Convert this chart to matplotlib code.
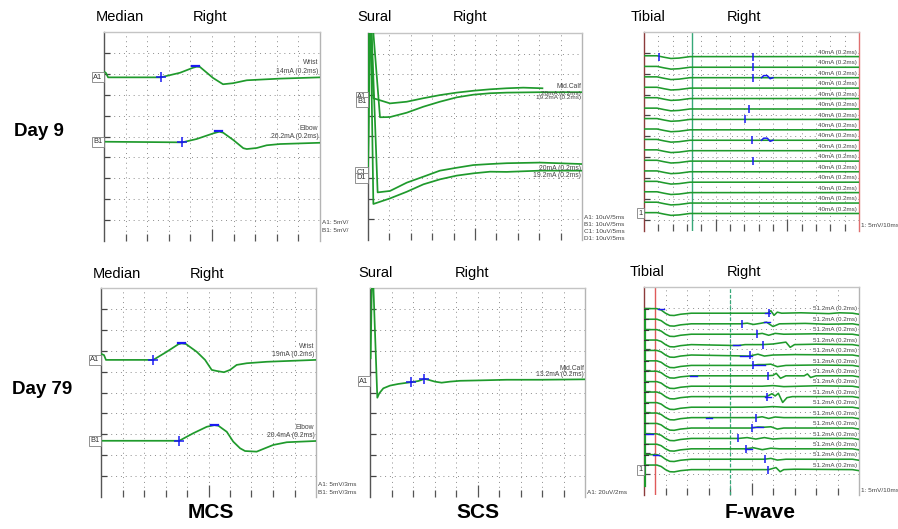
import matplotlib.pyplot as plt

plt.rcParams['font.family'] = ['Liberation Sans', 'DejaVu Sans']

W_PX, H_PX = 898, 529
GREEN = '#1f9a2c'
BLUE = '#1a1af2'
TEAL = '#35a878'

# all traces are in screen divisions (x: 0..10 or 0..15, y: 0..10 from bottom)

# ---- Day 9, median nerve MCS ----
mcs9_a1_x = [0.02, 0.09, 0.19, 2.62, 3.52, 4.12, 4.29, 4.44, 5.05, 5.51, 5.97, 6.61, 8.15, 10.0]
mcs9_a1_y = [8.09, 8.04, 7.83, 7.83, 8.05, 8.29, 8.34, 8.33, 7.80, 7.50, 7.55, 7.69, 7.77, 7.83]
mcs9_b1_x = [0.01, 3.62, 4.29, 5.06, 5.34, 5.52, 5.99, 6.45, 6.61, 7.07, 7.53, 8.15, 10.0]
mcs9_b1_y = [4.75, 4.72, 4.88, 5.15, 5.23, 5.18, 4.83, 4.44, 4.40, 4.45, 4.58, 4.64, 4.70]
mcs9_onset = [(2.62, 7.83), (3.62, 4.72)]
mcs9_peak = [(4.25, 8.36), (5.30, 5.25)]

# ---- Day 9, sural SCS (four sweeps) ----
scs9_a1_x = [0.0, 0.1, 0.25, 1.03, 1.81, 2.59, 3.36, 4.14, 4.92, 5.70, 6.48, 7.26, 8.15]
scs9_a1_y = [6.9, 12.0, 6.85, 6.60, 6.68, 6.85, 7.00, 7.12, 7.21, 7.28, 7.33, 7.36, 7.33]
scs9_b1_x = [0.0, 0.1, 0.56, 1.03, 1.81, 2.59, 3.36, 4.14, 4.92, 5.70, 6.48, 8.04, 10.0]
scs9_b1_y = [6.7, 12.0, 5.93, 5.94, 6.15, 6.44, 6.68, 6.89, 7.02, 7.09, 7.12, 7.14, 7.14]
scs9_c1_x = [0.0, 0.1, 0.45, 1.03, 1.81, 2.59, 3.36, 4.14, 4.92, 5.70, 6.48, 8.04, 10.0]
scs9_c1_y = [3.3, 12.0, 2.30, 2.37, 2.77, 3.06, 3.35, 3.49, 3.62, 3.67, 3.71, 3.74, 3.67]
scs9_d1_x = [0.0, 0.1, 0.25, 1.03, 1.81, 2.59, 3.36, 4.14, 4.92, 5.70, 6.48, 8.04, 10.0]
scs9_d1_y = [3.0, 12.0, 1.74, 2.01, 2.33, 2.69, 2.93, 3.11, 3.22, 3.30, 3.29, 3.35, 3.35]

# ---- Day 9, tibial F-wave (15 x-divisions, 16 sweeps) ----
fw9_base = [8.82, 8.31, 7.81, 7.31, 6.81, 6.31, 5.81, 5.31,
            4.81, 4.31, 3.81, 3.30, 2.80, 2.30, 1.80, 1.30]
fw9_shape_x = [0.0, 0.91, 1.40, 1.88, 2.44, 3.21, 15.0]
fw9_shape_y = [0.04, 0.04, -0.03, -0.09, -0.07, 0.0, 0.0]
fw9_marker_trace = [0, 0, 1, 2, 5, 6, 8, 10]
fw9_marker_x = [1.05, 7.61, 7.61, 7.61, 7.33, 7.05, 7.54, 7.61]
fw9_wave_trace = [2, 8]
fw9_wave_x = [8.2, 8.35, 8.6, 8.8, 9.0]
fw9_wave_y = [0.0, 0.1, 0.1, -0.05, 0.0]

# ---- Day 79, median nerve MCS ----
mcs79_a1_x = [0.03, 0.14, 0.23, 2.43, 3.06, 3.60, 3.75, 3.95, 4.45, 4.84, 5.15,
              5.38, 5.72, 6.00, 6.31, 6.78, 7.71, 10.0]
mcs79_a1_y = [6.84, 6.79, 6.56, 6.56, 6.95, 7.31, 7.35, 7.32, 6.95, 6.56, 6.08,
              6.03, 5.97, 6.08, 6.32, 6.40, 6.47, 6.56]
mcs79_b1_x = [0.0, 3.64, 4.29, 4.92, 5.27, 5.46, 5.85, 6.15, 6.47, 6.70, 7.24,
              7.55, 8.01, 8.64, 10.0]
mcs79_b1_y = [2.69, 2.69, 3.05, 3.36, 3.44, 3.41, 3.12, 2.65, 2.33, 2.20, 2.17,
              2.30, 2.49, 2.62, 2.68]
mcs79_onset = [(2.43, 6.56), (3.64, 2.69)]
mcs79_peak = [(3.75, 7.37), (5.27, 3.46)]

# ---- Day 79, sural SCS ----
scs79_x = [0.03, 0.11, 0.16, 0.34, 0.43, 0.62, 0.93, 1.32, 1.89, 2.25, 2.53, 2.71,
           3.02, 3.33, 3.72, 4.19, 5.12, 6.36, 7.91, 10.0]
scs79_y = [6.64, 11.8, 10.0, 4.75, 4.96, 5.20, 5.33, 5.41, 5.49, 5.55, 5.65, 5.61,
           5.52, 5.47, 5.52, 5.56, 5.58, 5.61, 5.61, 5.63]
scs79_onset = [(1.89, 5.49), (2.53, 5.65)]

# ---- Day 79, tibial F-wave (16 sweeps) ----
fw79_base = [8.74, 8.23, 7.73, 7.23, 6.73, 6.23, 5.73, 5.23,
             4.73, 4.22, 3.72, 3.22, 2.72, 2.22, 1.72, 1.22]
fw79_shape_x = [0.05, 0.6, 0.8, 1.0, 1.2, 1.4, 1.7, 2.2]
fw79_shape_y = [0.22, 0.22, 0.15, 0.0, -0.10, -0.11, -0.05, 0.0]
fw79_end_x = [9.7, 10.0]
fw79_end_y = [0.0, -0.05]
fw79_wave_x = [
    [5.75, 5.9, 6.05, 6.2, 6.4, 7.3, 8.6, 9.1],
    [4.5, 4.8, 5.1, 5.4, 5.7, 6.0, 6.3, 7.5, 8.5],
    [5.2, 5.5, 5.8, 6.1, 6.5, 8.0],
    [4.1, 4.4, 4.7, 5.5, 6.0, 6.6, 6.8, 7.0, 8.0],
    [4.4, 4.9, 5.3, 5.6, 6.0, 7.0],
    [5.0, 5.3, 5.6, 5.9, 6.2, 6.6, 8.0],
    [5.7, 6.0, 6.15, 6.35, 6.6, 7.45, 7.6, 7.75, 8.0],
    [5.5, 6.0, 6.5, 8.0],
    [5.7, 5.95, 6.1, 6.25, 6.45, 6.65, 6.9],
    [5.5, 6.0, 6.5],
    [5.2, 5.5, 5.8, 6.1, 6.5],
    [5.0, 5.3, 5.6, 5.9, 6.2, 6.5],
    [4.4, 4.8, 5.2, 5.6, 6.0, 6.4],
    [4.7, 5.1, 5.5, 5.9, 6.3],
    [5.6, 5.9, 6.2, 6.6],
    [5.8, 6.14, 6.33, 6.5, 7.0],
]
fw79_wave_y = [
    [0, 0.12, -0.10, 0.05, 0, 0.02, -0.02, 0.02],
    [0, 0.03, -0.03, 0.02, 0.08, -0.13, 0, 0.02, -0.02],
    [0, 0.04, -0.05, 0.04, 0, 0.02],
    [-0.04, -0.04, 0, 0, 0.03, 0.12, -0.13, 0, 0.02],
    [-0.04, -0.05, 0.04, -0.05, 0, 0.02],
    [0, 0.04, 0.04, 0.06, -0.06, 0, 0.02],
    [0, 0.02, 0.12, -0.12, 0, 0, 0.09, -0.08, 0],
    [0, 0.03, -0.02, 0.02],
    [0, 0.14, 0.03, 0.16, -0.28, -0.05, 0],
    [0, 0.03, 0],
    [0, 0.04, -0.04, 0.03, 0],
    [0, 0.05, 0.04, 0.06, -0.05, 0],
    [0, 0.04, -0.03, 0.04, -0.03, 0],
    [0, 0.05, -0.04, 0.03, 0],
    [0, 0.04, -0.04, 0],
    [0, 0.10, -0.10, 0, 0.02],
]
fw79_marker_x = [5.81, 4.57, 5.24, 5.52, 4.93, 5.05, 5.75, None,
                 5.71, None, 5.21, 5.01, 4.39, 4.74, 5.63, 5.78]
fw79_blue_trace = [0, 0, 1, 3, 4, 5, 6, 8, 10, 11, 12, 13, 14]
fw79_blue_x0 = [0.65, 5.62, 5.60, 4.14, 4.47, 5.07, 2.14, 5.65, 2.90, 5.07, 0.10, 4.70, 0.40]
fw79_blue_x1 = [0.95, 5.88, 5.85, 4.47, 5.00, 5.63, 2.45, 5.90, 3.15, 5.55, 0.40, 5.00, 0.70]
fw79_blue_dy = [0.20, 0.0, 0.08, -0.04, -0.05, 0.04, 0.0, 0.0, 0.0, 0.05, 0.22, 0.0, 0.18]


def px_rect(left, top, right, bottom):
    return [left / W_PX, 1 - bottom / H_PX, (right - left) / W_PX, (bottom - top) / H_PX]


def fig_text(fig, x, y, s, **kw):
    fig.text(x / W_PX, 1 - y / H_PX, s, va='center', **kw)


def scope_axes(fig, rect, nx=10, ylow=0.0, long_ticks=(5,), left_color='#555555',
               right_color='#b4b4b4'):
    ax = fig.add_axes(rect)
    ax.set_xlim(0, nx)
    ax.set_ylim(ylow, 10)
    ax.set_xticks(list(long_ticks))
    ax.set_xticks([i for i in range(1, nx) if i not in long_ticks], minor=True)
    ax.set_yticks(range(1, 10))
    ax.tick_params(axis='x', which='major', direction='in', length=9, width=0.9,
                   color='#555555', labelbottom=False)
    ax.tick_params(axis='x', which='minor', direction='in', length=5, width=0.9,
                   color='#555555')
    ax.tick_params(axis='y', direction='in', length=4, width=0.9, color='#444444',
                   labelleft=False)
    dots = (0, (1, 4))
    ax.grid(True, which='both', axis='x', color='#8c8c8c', lw=0.7, ls=dots)
    ax.grid(True, which='major', axis='y', color='#8c8c8c', lw=0.7, ls=dots)
    ax.spines['bottom'].set_visible(False)
    ax.spines['left'].set_color(left_color)
    ax.spines['left'].set_linewidth(1.0)
    ax.spines['top'].set_color('#c4c4c4')
    ax.spines['right'].set_color(right_color)
    for s in ('top', 'right'):
        ax.spines[s].set_linewidth(1.0)
    return ax


def box_label(ax, y, s):
    ax.text(-0.008, y, s, transform=ax.get_yaxis_transform(), ha='right', va='center',
            fontsize=5.4, color='#333333', clip_on=False,
            bbox=dict(boxstyle='square,pad=0.2', fc='white', ec='#808080', lw=0.6))


def right_note(ax, x, y, s, size=4.9):
    ax.text(x, y, s, ha='right', va='center', fontsize=size, color='#444444')


def side_notes(ax, lines, y_top, step):
    for i, s in enumerate(lines):
        ax.text(1.01, y_top - i * step, s, transform=ax.transAxes, ha='left',
                va='center', fontsize=4.6, color='#444444', clip_on=False)


def trace(ax, x, y, lw=1.25):
    ax.plot(x, y, color=GREEN, lw=lw, solid_joinstyle='round', zorder=3)


def onset(ax, pts):
    for x, y in pts:
        ax.plot(x, y, marker='+', ms=7, mew=1.1, color=BLUE, zorder=4)


def peak(ax, pts):
    for x, y in pts:
        ax.plot([x - 0.17, x + 0.17], [y, y], color=BLUE, lw=1.6, zorder=4)


fig = plt.figure(figsize=(8.98, 5.29), dpi=100)

# ---------------- Day 9 ----------------
ax = scope_axes(fig, px_rect(104, 32, 320, 241))
trace(ax, mcs9_a1_x, mcs9_a1_y)
trace(ax, mcs9_b1_x, mcs9_b1_y)
onset(ax, mcs9_onset)
peak(ax, mcs9_peak)
box_label(ax, 7.83, 'A1')
box_label(ax, 4.75, 'B1')
right_note(ax, 9.92, 8.52, 'Wrist')
right_note(ax, 9.92, 8.12, '14mA (0.2ms)')
right_note(ax, 9.92, 5.36, 'Elbow')
right_note(ax, 9.92, 4.98, '26.2mA (0.2ms)')
side_notes(ax, ['A1: 5mV/', 'B1: 5mV/'], 0.09, 0.04)

ax = scope_axes(fig, px_rect(368, 33, 582, 240))
trace(ax, scs9_a1_x, scs9_a1_y)
trace(ax, scs9_b1_x, scs9_b1_y)
trace(ax, scs9_c1_x, scs9_c1_y)
trace(ax, scs9_d1_x, scs9_d1_y)
box_label(ax, 6.93, 'A1')
box_label(ax, 6.67, 'B1')
box_label(ax, 3.28, 'C1')
box_label(ax, 3.00, 'D1')
right_note(ax, 9.95, 7.43, 'Mid.Calf')
right_note(ax, 9.95, 7.10, '20mA (0.2ms)', size=4.6)
right_note(ax, 9.95, 6.86, '19.2mA (0.2ms)', size=4.6)
right_note(ax, 9.95, 3.46, '20mA (0.2ms)')
right_note(ax, 9.95, 3.14, '19.2mA (0.2ms)')
side_notes(ax, ['A1: 10uV/5ms', 'B1: 10uV/5ms', 'C1: 10uV/5ms', 'D1: 10uV/5ms'],
           0.11, 0.034)

ax = scope_axes(fig, px_rect(644, 32, 859, 231), nx=15, ylow=0.46, long_ticks=(5, 10),
                left_color='#8c3b3b', right_color='#e07070')
ax.axvline(3.35, color=TEAL, lw=1.0, zorder=2)
for i, b in enumerate(fw9_base):
    trace(ax, fw9_shape_x, [b + d for d in fw9_shape_y], lw=1.15)
    ax.text(14.88, b + 0.21, '40mA (0.2ms)', ha='right', va='center', fontsize=4.5,
            color='#444444', zorder=5,
            bbox=dict(boxstyle='square,pad=0.05', fc='white', ec='none'))
for i, x in zip(fw9_marker_trace, fw9_marker_x):
    ax.plot(x, fw9_base[i], marker='|', ms=5.5, mew=1.1, color=BLUE, zorder=6)
for i in fw9_wave_trace:
    ax.plot(fw9_wave_x, [fw9_base[i] + d for d in fw9_wave_y], color=BLUE, lw=1.1, zorder=6)
box_label(ax, fw9_base[-1], '1')
side_notes(ax, ['1: 5mV/10ms'], 0.03, 0)

# ---------------- Day 79 ----------------
ax = scope_axes(fig, px_rect(101, 288, 316, 497))
trace(ax, mcs79_a1_x, mcs79_a1_y)
trace(ax, mcs79_b1_x, mcs79_b1_y)
onset(ax, mcs79_onset)
peak(ax, mcs79_peak)
box_label(ax, 6.56, 'A1')
box_label(ax, 2.69, 'B1')
right_note(ax, 9.93, 7.19, 'Wrist')
right_note(ax, 9.93, 6.83, '19mA (0.2ms)')
right_note(ax, 9.93, 3.33, 'Elbow')
right_note(ax, 9.93, 2.92, '20.4mA (0.2ms)')
side_notes(ax, ['A1: 5mV/3ms', 'B1: 5mV/3ms'], 0.06, 0.038)

ax = scope_axes(fig, px_rect(370, 288, 585, 497))
trace(ax, scs79_x, scs79_y)
onset(ax, scs79_onset)
box_label(ax, 5.55, 'A1')
right_note(ax, 9.95, 6.14, 'Mid.Calf')
right_note(ax, 9.95, 5.86, '13.2mA (0.2ms)')
side_notes(ax, ['A1: 20uV/2ms'], 0.02, 0)

ax = scope_axes(fig, px_rect(644, 287, 859, 495), left_color='#8c3b3b')
ax.axvline(0.53, color='#e05a5a', lw=1.0, zorder=2)
ax.axvline(4.0, color=TEAL, lw=0.9, ls=(0, (3, 1.5)), zorder=2)
ax.plot([0.06, 0.06], [fw79_base[0] + 0.22, 0.45], color=GREEN, lw=1.6, zorder=3)
for i, b in enumerate(fw79_base):
    xs = fw79_shape_x + fw79_wave_x[i] + fw79_end_x
    ys = [b + d for d in fw79_shape_y + fw79_wave_y[i] + fw79_end_y]
    trace(ax, xs, ys, lw=1.15)
    ax.plot([0.0, 0.2], [b + 0.22, b + 0.22], color='#333333', lw=0.8, zorder=4)
    ax.text(9.92, b + 0.21, '51.2mA (0.2ms)', ha='right', va='center', fontsize=4.5,
            color='#444444', zorder=5,
            bbox=dict(boxstyle='square,pad=0.05', fc='white', ec='none'))
    if fw79_marker_x[i] is not None:
        ax.plot(fw79_marker_x[i], b, marker='|', ms=5.5, mew=1.1, color=BLUE, zorder=6)
for i, x0, x1, dy in zip(fw79_blue_trace, fw79_blue_x0, fw79_blue_x1, fw79_blue_dy):
    ax.plot([x0, x1], [fw79_base[i] + dy] * 2, color=BLUE, lw=1.0, zorder=5)
box_label(ax, fw79_base[-1], '1')
side_notes(ax, ['1: 5mV/10ms'], 0.02, 0)

# ---------------- titles and labels ----------------
fig_text(fig, 96, 16.7, 'Median', fontsize=10.5)
fig_text(fig, 193, 16.7, 'Right', fontsize=10.5)
fig_text(fig, 357, 16.7, 'Sural', fontsize=10.5)
fig_text(fig, 453, 16.7, 'Right', fontsize=10.5)
fig_text(fig, 631, 16.7, 'Tibial', fontsize=10.5)
fig_text(fig, 727, 16.7, 'Right', fontsize=10.5)
fig_text(fig, 93, 274, 'Median', fontsize=10.5)
fig_text(fig, 190, 274, 'Right', fontsize=10.5)
fig_text(fig, 358, 273, 'Sural', fontsize=10.5)
fig_text(fig, 455, 273, 'Right', fontsize=10.5)
fig_text(fig, 630, 272, 'Tibial', fontsize=10.5)
fig_text(fig, 727, 272, 'Right', fontsize=10.5)

fig_text(fig, 14, 132, 'Day 9', fontsize=13.5, fontweight='bold')
fig_text(fig, 12, 389, 'Day 79', fontsize=13.5, fontweight='bold')
fig_text(fig, 211, 512, 'MCS', fontsize=15, fontweight='bold', ha='center')
fig_text(fig, 478, 513, 'SCS', fontsize=15, fontweight='bold', ha='center')
fig_text(fig, 760, 512, 'F-wave', fontsize=15, fontweight='bold', ha='center')

fig.savefig('out.png', dpi=100, facecolor='white')
